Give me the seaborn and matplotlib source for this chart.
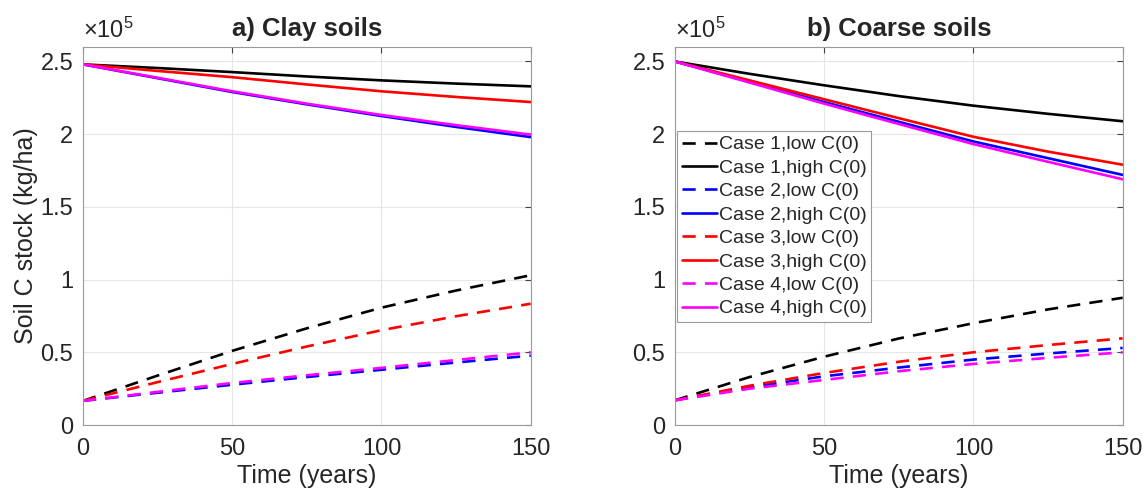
import numpy as np
import pandas as pd
import seaborn as sns
import matplotlib.pyplot as plt
from matplotlib.ticker import FuncFormatter

# time axis (years)
years = [0, 25, 50, 75, 100, 125, 150]

# soil C stock, in units of 1e5 kg/ha
clay_c1_low = [0.166, 0.34, 0.51, 0.665, 0.807, 0.925, 1.03]
clay_c1_high = [2.48, 2.455, 2.427, 2.397, 2.37, 2.348, 2.329]
clay_c2_low = [0.166, 0.222, 0.277, 0.33, 0.38, 0.43, 0.477]
clay_c2_high = [2.48, 2.385, 2.29, 2.205, 2.125, 2.05, 1.98]
clay_c3_low = [0.166, 0.295, 0.42, 0.54, 0.652, 0.748, 0.834]
clay_c3_high = [2.48, 2.435, 2.392, 2.342, 2.295, 2.256, 2.221]
clay_c4_low = [0.166, 0.228, 0.289, 0.342, 0.393, 0.447, 0.5]
clay_c4_high = [2.48, 2.388, 2.295, 2.21, 2.132, 2.062, 1.997]

coarse_c1_low = [0.17, 0.33, 0.47, 0.595, 0.70, 0.795, 0.875]
coarse_c1_high = [2.5, 2.415, 2.336, 2.262, 2.196, 2.14, 2.089]
coarse_c2_low = [0.17, 0.26, 0.335, 0.395, 0.45, 0.492, 0.53]
coarse_c2_high = [2.5, 2.36, 2.221, 2.085, 1.95, 1.835, 1.72]
coarse_c3_low = [0.17, 0.27, 0.358, 0.435, 0.50, 0.55, 0.596]
coarse_c3_high = [2.5, 2.37, 2.24, 2.11, 1.982, 1.88, 1.79]
coarse_c4_low = [0.17, 0.25, 0.31, 0.37, 0.42, 0.462, 0.50]
coarse_c4_high = [2.5, 2.355, 2.21, 2.07, 1.932, 1.81, 1.69]

labels = ['Case 1,low C(0)', 'Case 1,high C(0)', 'Case 2,low C(0)', 'Case 2,high C(0)',
          'Case 3,low C(0)', 'Case 3,high C(0)', 'Case 4,low C(0)', 'Case 4,high C(0)']
colors = ['#000000', '#000000', '#0000ff', '#0000ff',
          '#ff0000', '#ff0000', '#ff00ff', '#ff00ff']

clay = [clay_c1_low, clay_c1_high, clay_c2_low, clay_c2_high,
        clay_c3_low, clay_c3_high, clay_c4_low, clay_c4_high]
coarse = [coarse_c1_low, coarse_c1_high, coarse_c2_low, coarse_c2_high,
          coarse_c3_low, coarse_c3_high, coarse_c4_low, coarse_c4_high]

sns.set_style('white')
plt.rcParams['font.family'] = ['Liberation Sans', 'DejaVu Sans']
plt.rcParams['mathtext.fontset'] = 'custom'
plt.rcParams['mathtext.rm'] = 'Liberation Sans'
plt.rcParams['mathtext.it'] = 'Liberation Sans'

fig = plt.figure(figsize=(11.45, 4.91), dpi=100)
ax1 = fig.add_axes([0.0725, 0.1344, 0.391, 0.770])
ax2 = fig.add_axes([0.5895, 0.1344, 0.391, 0.770])


def draw(ax, series, title, ylabel):
    for i, vals in enumerate(series):
        df = pd.DataFrame({'t': years, 'c': vals})
        sns.lineplot(data=df, x='t', y='c', ax=ax, color=colors[i], lw=1.9,
                     label=labels[i], legend=False)
        if i % 2 == 0:
            ax.get_lines()[-1].set_dashes((5, 3.5))
    ax.set_xlim(0, 150)
    ax.set_ylim(0, 2.6)
    ax.set_xticks([0, 50, 100, 150])
    ax.set_yticks([0, 0.5, 1, 1.5, 2, 2.5])
    ax.yaxis.set_major_formatter(FuncFormatter(lambda v, p: '%g' % v))
    ax.grid(True, color='#e6e6e6', lw=0.8)
    ax.tick_params(direction='in', length=4, width=0.8, color='#444444',
                   labelsize=17, top=True, right=True, labeltop=False, labelright=False,
                   labelcolor='#262626')
    ax.tick_params(axis='x', pad=9)
    ax.tick_params(axis='y', pad=7)
    for s in ax.spines.values():
        s.set_color('#9a9a9a')
        s.set_linewidth(0.8)
    ax.set_xlabel('Time (years)', fontsize=18, labelpad=3, color='#262626')
    ax.set_ylabel(ylabel, fontsize=18, labelpad=2, color='#262626')
    ax.set_title(title, fontsize=18.5, fontweight='bold', pad=8)
    ax.text(0.0, 1.012, r'$\times10^5$', transform=ax.transAxes, fontsize=17,
            ha='left', va='bottom', color='#262626')


draw(ax1, clay, 'a) Clay soils', 'Soil C stock (kg/ha)')
draw(ax2, coarse, 'b) Coarse soils', '')

leg = ax2.legend(loc='upper left', bbox_to_anchor=(0.004, 0.778), borderaxespad=0,
                 fontsize=14, handlelength=1.8, handletextpad=0.1, labelspacing=0.3,
                 borderpad=0.25, fancybox=False, framealpha=1, edgecolor='#9a9a9a')
leg.get_frame().set_linewidth(0.8)

fig.savefig('out.png', dpi=100)
